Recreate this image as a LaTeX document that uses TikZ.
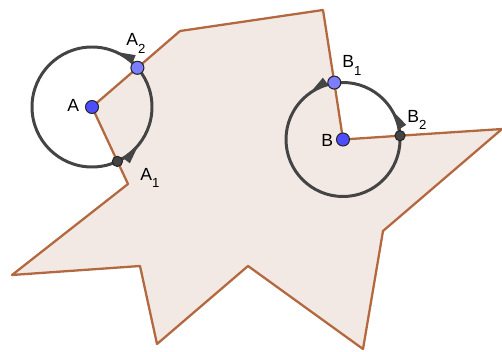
\documentclass[tikz,border=0pt]{standalone}
\usepackage{fontspec}
\setmainfont{Liberation Sans}
\usepackage{tikz}
\usetikzlibrary{arrows.meta}
\definecolor{brn}{HTML}{B4683F}
\definecolor{pnk}{HTML}{F3E9E4}
\definecolor{gry}{HTML}{444444}
\definecolor{blu}{HTML}{4D4DFF}
\definecolor{lblu}{HTML}{7D7DFF}
\newcommand{\lowsub}[1]{\raisebox{-4pt}{\fontsize{7.5}{9}\selectfont #1}}

\begin{document}
\begin{tikzpicture}[x=0.02cm, y=-0.02cm,
  ring/.style={gry, line width=1.7pt},
  wedge/.style={ring, -{Triangle[length=12pt,width=4.5pt]}},
  pt/.style={circle, draw=black!85, line width=0.6pt, inner sep=0pt, minimum size=7.4pt},
  dpt/.style={pt, fill=gry, minimum size=5.8pt},
  lbl/.style={anchor=base west, inner sep=0pt, font=\fontsize{10}{12}\selectfont}]
  \useasboundingbox (0,0) rectangle (502,351);
  % Corners of the polygon
  \coordinate (p1) at (180,31);
  \coordinate (p2) at (323,10);
  \coordinate (p3) at (502,129);
  \coordinate (p4) at (383,231);
  \coordinate (p5) at (363,349);
  \coordinate (p6) at (248,266);
  \coordinate (p7) at (157,344);
  \coordinate (p8) at (140,266);
  \coordinate (p9) at (12,275);
  \coordinate (p10) at (128,184);
  % Points on the boundary
  \coordinate (A) at (92,107);
  \coordinate (A1) at (117.4,161.4);
  \coordinate (A2) at (137.4,67.8);
  \coordinate (B) at (343,139.5);
  \coordinate (B1) at (334.3,82.6);
  \coordinate (B2) at (400,135.7);
  % Polygon
  \filldraw[brn, fill=pnk, line width=1.3pt, line join=round]
    (p1) -- (p2) -- (B1) -- (B) -- (B2) -- (p3) -- (p4) -- (p5) -- (p6)
    -- (p7) -- (p8) -- (p9) -- (p10) -- (A1) -- (A) -- (A2) -- cycle;
  % Circles round A and B
  \draw[ring] (A) circle (60);
  \draw[ring] (B) circle (57);
  % Wedges on the circles
  \draw[wedge] ([shift={(A)}]65:60) arc (65:38:60);
  \draw[wedge] ([shift={(A)}]-41:60) arc (-41:-68:60);
  \draw[wedge] ([shift={(B)}]-99:57) arc (-99:-127:57);
  \draw[wedge] ([shift={(B)}]-4:57) arc (-4:-32:57);
  % Points
  \node[pt, fill=blu] (dA) at (A) {};
  \node[pt, fill=lblu] (dA2) at (A2) {};
  \node[dpt] (dA1) at (A1) {};
  \node[pt, fill=blu] (dB) at (B) {};
  \node[pt, fill=lblu] (dB1) at (B1) {};
  \node[dpt] (dB2) at (B2) {};
  % Labels
  \node[lbl] (lA) at (67,112) {A};
  \node[lbl] (lA2) at (126,46) {A\lowsub{2}};
  \node[lbl] (lA1) at (140,180) {A\lowsub{1}};
  \node[lbl] (lB) at (321,146) {B};
  \node[lbl] (lB1) at (342,68) {B\lowsub{1}};
  \node[lbl] (lB2) at (407,122) {B\lowsub{2}};
\end{tikzpicture}
\end{document}
